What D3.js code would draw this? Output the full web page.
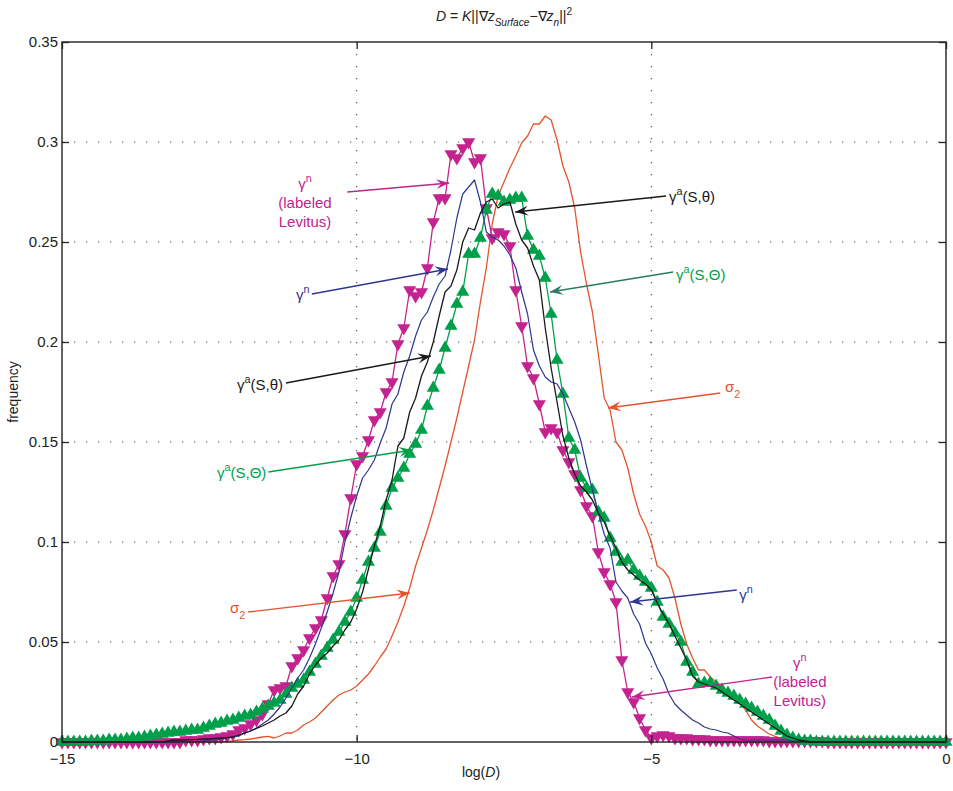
<!DOCTYPE html>
<html>
<head>
<meta charset="utf-8">
<script src="https://d3js.org/d3.v7.min.js"></script>
<style>
  body { margin: 0; background: #fff; }
  svg { display: block; }
  text { font-family: "Liberation Sans", Arial, Helvetica, sans-serif; fill: #222; }
</style>
</head>
<body>
<script>
// bin centres of log(D), 0.1 wide, -15 .. 0
var logD = d3.range(151).map(function(i) { return -15 + i * 0.1; });

var xTicks = [-15, -10, -5, 0];
var xTickLabels = ["\u221215", "\u221210", "\u22125", "0"];
var yTicks = [0, 0.05, 0.1, 0.15, 0.2, 0.25, 0.3, 0.35];
var yTickLabels = ["0", "0.05", "0.1", "0.15", "0.2", "0.25", "0.3", "0.35"];

// gamma^n (labeled Levitus)
var gnLevitus = [
  0,0,0,0,0,0,0,0,0,0,
  0,0,0,0,0,0,0,0,0,0,
  0,0.001,0.001,0.001,0.0015,0.002,0.002,0.0025,0.003,0.004,
  0.006,0.007,0.009,0.011,0.014,0.019,0.026,0.027,0.028,0.038,
  0.042,0.046,0.052,0.057,0.061,0.072,0.083,0.089,0.104,0.122,
  0.139,0.143,0.151,0.161,0.165,0.175,0.180,0.199,0.207,0.226,
  0.223,0.225,0.237,0.260,0.272,0.272,0.294,0.292,0.297,0.300,
  0.290,0.292,0.267,0.252,0.255,0.254,0.248,0.226,0.208,0.188,
  0.182,0.169,0.155,0.157,0.155,0.146,0.140,0.134,0.126,0.118,
  0.113,0.095,0.085,0.079,0.070,0.041,0.025,0.020,0.012,0.006,
  0.002,0.003,0.0035,0.003,0.002,0.002,0.002,0.0015,0.0015,0.0015,
  0.001,0.001,0.001,0.001,0.001,0.001,0.001,0.001,0.001,0.001,
  0.0005,0.0005,0.0005,0.0005,0.0005,0.0005,0.0005,0.0005,0.0005,0.0005,
  0,0,0,0,0,0,0,0,0,0,
  0,0,0,0,0,0,0,0,0,0,
  0
];

// gamma^a(S, Theta)
var gaTheta = [
  0,0,0,0,0,0.0005,0.0005,0.0005,0.001,0.001,
  0.001,0.0015,0.002,0.002,0.0025,0.003,0.0035,0.004,0.0045,0.005,
  0.005,0.0055,0.006,0.006,0.007,0.008,0.009,0.0095,0.0105,0.011,
  0.012,0.013,0.0135,0.015,0.0165,0.018,0.0195,0.021,0.024,0.027,
  0.029,0.031,0.035,0.039,0.043,0.047,0.051,0.055,0.060,0.065,
  0.072,0.081,0.090,0.097,0.105,0.118,0.127,0.132,0.137,0.144,
  0.149,0.156,0.168,0.177,0.186,0.197,0.208,0.219,0.225,0.244,
  0.244,0.252,0.266,0.274,0.273,0.270,0.271,0.272,0.272,0.253,
  0.246,0.243,0.232,0.214,0.191,0.174,0.152,0.146,0.132,0.127,
  0.126,0.115,0.112,0.102,0.095,0.090,0.091,0.086,0.083,0.080,
  0.077,0.070,0.0625,0.059,0.0545,0.050,0.040,0.035,0.029,0.0295,
  0.0295,0.028,0.026,0.0245,0.023,0.021,0.019,0.017,0.015,0.013,
  0.011,0.008,0.0055,0.0035,0.002,0.001,0.0005,0.0005,0,0,
  0,0,0,0,0,0,0,0,0,0,
  0,0,0,0,0,0,0,0,0,0,
  0
];

// gamma^a(S, theta)
var gaPot = [
  0,0,0,0,0,0,0,0,0,0,
  0,0,0,0,0,0,0,0,0.0005,0.001,
  0.001,0.001,0.0012,0.0013,0.0015,0.0015,0.0018,0.002,0.0022,0.0025,
  0.0035,0.0045,0.0055,0.0068,0.008,0.0095,0.011,0.013,0.0145,0.018,
  0.024,0.028,0.034,0.0385,0.042,0.0445,0.048,0.051,0.056,0.060,
  0.0665,0.075,0.0865,0.098,0.108,0.121,0.131,0.148,0.152,0.165,
  0.172,0.183,0.190,0.200,0.213,0.225,0.228,0.236,0.250,0.257,
  0.256,0.2645,0.270,0.2715,0.267,0.269,0.270,0.259,0.251,0.247,
  0.238,0.231,0.207,0.187,0.170,0.153,0.142,0.134,0.128,0.125,
  0.121,0.1145,0.110,0.103,0.097,0.090,0.086,0.0835,0.081,0.079,
  0.076,0.0695,0.064,0.059,0.053,0.047,0.041,0.033,0.030,0.029,
  0.028,0.027,0.025,0.023,0.021,0.019,0.017,0.015,0.013,0.011,
  0.009,0.007,0.005,0.003,0.002,0.001,0.0005,0,0,0,
  0,0,0,0,0,0,0,0,0,0,
  0,0,0,0,0,0,0,0,0,0,
  0
];

// gamma^n
var gn = [
  0,0,0,0,0,0,0,0,0,0,
  0,0,0,0,0,0,0,0,0,0,
  0,0,0,0.0003,0.0005,0.001,0.001,0.0015,0.002,0.0025,
  0.003,0.0045,0.0055,0.007,0.009,0.011,0.014,0.0175,0.022,0.027,
  0.032,0.036,0.042,0.049,0.057,0.065,0.0745,0.085,0.100,0.112,
  0.123,0.132,0.136,0.141,0.1495,0.157,0.169,0.174,0.185,0.193,
  0.203,0.211,0.215,0.2225,0.229,0.233,0.246,0.262,0.274,0.2775,
  0.281,0.270,0.255,0.2525,0.251,0.248,0.2435,0.237,0.225,0.214,
  0.196,0.188,0.1825,0.180,0.179,0.174,0.167,0.160,0.151,0.138,
  0.126,0.1145,0.104,0.097,0.080,0.0755,0.072,0.064,0.059,0.0495,
  0.044,0.037,0.0315,0.024,0.019,0.016,0.0135,0.011,0.0095,0.0075,
  0.0065,0.006,0.005,0.0045,0.003,0.0015,0.001,0.001,0.001,0.001,
  0.001,0.001,0.001,0.001,0.0005,0.0005,0.0005,0,0,0,
  0,0,0,0,0,0,0,0,0,0,
  0,0,0,0,0,0,0,0,0,0,
  0
];

// sigma_2
var sigma2 = [
  0,0,0,0,0,0,0,0,0,0,
  0,0,0,0,0,0,0,0,0,0,
  0,0,0,0,0,0,0,0,0.0003,0.0005,
  0.001,0.0012,0.0015,0.002,0.0025,0.0028,0.002,0.003,0.0045,0.0045,
  0.006,0.0085,0.010,0.012,0.015,0.018,0.021,0.0235,0.025,0.026,
  0.028,0.031,0.034,0.038,0.0425,0.0465,0.053,0.060,0.068,0.077,
  0.088,0.097,0.106,0.116,0.127,0.138,0.150,0.162,0.175,0.188,
  0.201,0.220,0.237,0.259,0.273,0.280,0.287,0.293,0.2995,0.303,
  0.309,0.309,0.313,0.311,0.301,0.288,0.280,0.267,0.245,0.229,
  0.215,0.194,0.172,0.166,0.150,0.146,0.137,0.124,0.114,0.108,
  0.100,0.088,0.086,0.082,0.072,0.059,0.049,0.042,0.036,0.036,
  0.0325,0.030,0.027,0.024,0.022,0.0195,0.016,0.011,0.008,0.006,
  0.004,0.0028,0.0018,0.001,0.0005,0.0005,0.0005,0.0005,0.0005,0.0005,
  0.0005,0,0,0,0,0,0,0,0,0,
  0,0,0,0,0,0,0,0,0,0,
  0
];

var colMagenta = "#c4238f", colGreen = "#00a04b", colBlack = "#1a1a1a",
    colBlue = "#2e3592", colOrange = "#e2552b", colTeal = "#2a7b62";

var margin = {top: 42, right: 7, bottom: 49, left: 62},
    width = 953 - margin.left - margin.right,
    height = 791 - margin.top - margin.bottom;

var x = d3.scaleLinear().domain([-15, 0]).range([0, width]);
var y = d3.scaleLinear().domain([0, 0.35]).range([height, 0]);

var svg = d3.select("body").append("svg")
    .attr("width", 953)
    .attr("height", 791);

var g = svg.append("g")
    .attr("transform", "translate(" + margin.left + "," + margin.top + ")");

// dotted grid
g.selectAll(".hgrid")
    .data(yTicks.slice(1, -1))
  .enter().append("line")
    .attr("x1", 0).attr("x2", width)
    .attr("y1", y).attr("y2", y)
    .attr("stroke", "#444").attr("stroke-width", 1.1)
    .attr("stroke-dasharray", "1.2,10.8");
g.selectAll(".vgrid")
    .data(xTicks.slice(1, -1))
  .enter().append("line")
    .attr("y1", 0).attr("y2", height)
    .attr("x1", x).attr("x2", x)
    .attr("stroke", "#444").attr("stroke-width", 1.1)
    .attr("stroke-dasharray", "1.2,10.8");

// series
var line = d3.line()
    .x(function(d, i) { return x(logD[i]); })
    .y(function(d) { return y(d); });

function drawLine(values, color, w) {
  g.append("path")
    .datum(values)
    .attr("fill", "none")
    .attr("stroke", color)
    .attr("stroke-width", w)
    .attr("stroke-linejoin", "round")
    .attr("d", line);
}

function drawMarkers(values, color, down) {
  var tri = d3.symbol().type(d3.symbolTriangle).size(74);
  g.append("g").selectAll("path")
    .data(values)
  .enter().append("path")
    .attr("d", tri)
    .attr("fill", color)
    .attr("transform", function(d, i) {
      return "translate(" + x(logD[i]) + "," + y(d) + ")" + (down ? " rotate(180)" : "");
    });
}

drawLine(sigma2, colOrange, 1.3);
drawLine(gnLevitus, colMagenta, 1.3);
drawMarkers(gnLevitus, colMagenta, true);
drawLine(gaTheta, colGreen, 1.3);
drawMarkers(gaTheta, colGreen, false);
drawLine(gn, colBlue, 1.2);
drawLine(gaPot, colBlack, 1.3);

// axes, ticks inside on all four sides
g.append("g")
    .attr("transform", "translate(0," + height + ")")
    .call(d3.axisBottom(x).tickValues(xTicks)
      .tickFormat(function(d, i) { return xTickLabels[i]; })
      .tickSizeInner(-7).tickSizeOuter(0).tickPadding(11));
g.append("g")
    .call(d3.axisLeft(y).tickValues(yTicks)
      .tickFormat(function(d, i) { return yTickLabels[i]; })
      .tickSizeInner(-7).tickSizeOuter(0).tickPadding(4));
g.append("g")
    .call(d3.axisTop(x).tickValues(xTicks).tickFormat("").tickSizeInner(-7).tickSizeOuter(0));
g.append("g")
    .attr("transform", "translate(" + width + ",0)")
    .call(d3.axisRight(y).tickValues(yTicks).tickFormat("").tickSizeInner(-7).tickSizeOuter(0));

g.selectAll(".domain").remove();
g.selectAll(".tick line").attr("stroke", "#222").attr("stroke-width", 1.3);
g.selectAll(".tick text").attr("font-size", 15).attr("fill", "#222")
    .style("font-family", "'Liberation Sans', Arial, sans-serif");

g.append("rect")
    .attr("width", width).attr("height", height)
    .attr("fill", "none").attr("stroke", "#222").attr("stroke-width", 1.4);

// rich text helper: parts with optional sup / sub / italic
function rich(sel, parts, size) {
  var shift = 0;
  parts.forEach(function(p) {
    var t = sel.append("tspan").text(p.t);
    var target = p.sup ? -0.45 * size : p.sub ? 0.38 * size : 0;
    t.attr("dy", target - shift);
    shift = target;
    if (p.sup || p.sub) t.attr("font-size", size * 0.72);
    if (p.it) t.attr("font-style", "italic");
  });
}

var gammaA_theta = [{t: "\u03b3"}, {t: "a", sup: true}, {t: "(S,\u03b8)"}];
var gammaA_Theta = [{t: "\u03b3"}, {t: "a", sup: true}, {t: "(S,\u0398)"}];
var gammaN = [{t: "\u03b3"}, {t: "n", sup: true}];
var sigmaTwo = [{t: "\u03c3"}, {t: "2", sub: true}];

// annotations: text anchor point and arrow in data units
var notes = [
  {parts: gammaN, extra: ["(labeled", "Levitus)"], color: colMagenta, anchor: "middle",
   tx: -10.877, ty: 0.2765, from: [-10.16, 0.275], to: [-8.43, 0.2795]},
  {parts: gammaN, color: colBlue, anchor: "start",
   tx: -11.03, ty: 0.221, from: [-10.76, 0.224], to: [-8.45, 0.2365]},
  {parts: gammaA_theta, color: colBlack, anchor: "start",
   tx: -12.03, ty: 0.176, from: [-11.2, 0.1795], to: [-8.74, 0.193]},
  {parts: gammaA_Theta, color: colGreen, anchor: "start",
   tx: -12.37, ty: 0.132, from: [-11.5, 0.135], to: [-9.06, 0.146]},
  {parts: sigmaTwo, color: colOrange, anchor: "start",
   tx: -12.15, ty: 0.0645, from: [-11.84, 0.065], to: [-9.1, 0.0745]},
  {parts: gammaA_theta, color: colBlack, anchor: "start",
   tx: -4.7, ty: 0.27, from: [-4.75, 0.273], to: [-7.31, 0.265]},
  {parts: gammaA_Theta, color: colGreen, arrowColor: colTeal, anchor: "start",
   tx: -4.58, ty: 0.231, from: [-4.63, 0.235], to: [-6.72, 0.225]},
  {parts: sigmaTwo, color: colOrange, anchor: "start",
   tx: -3.75, ty: 0.175, from: [-3.83, 0.1745], to: [-5.735, 0.167]},
  {parts: gammaN, color: colBlue, anchor: "start",
   tx: -3.51, ty: 0.071, from: [-3.55, 0.076], to: [-5.36, 0.07]},
  {parts: gammaN, extra: ["(labeled", "Levitus)"], color: colMagenta, anchor: "middle",
   tx: -2.48, ty: 0.037, from: [-2.95, 0.0325], to: [-5.33, 0.0225]}
];

function arrowHead(px, py, angle, color) {
  var L = 13, W = 5, N = 8;
  g.append("path")
    .attr("d", "M0,0L" + (-L) + "," + (-W) + "L" + (-N) + ",0L" + (-L) + "," + W + "Z")
    .attr("fill", color)
    .attr("transform", "translate(" + px + "," + py + ") rotate(" + (angle * 180 / Math.PI) + ")");
}

notes.forEach(function(n) {
  var ac = n.arrowColor || n.color;
  var x1 = x(n.from[0]), y1 = y(n.from[1]), x2 = x(n.to[0]), y2 = y(n.to[1]);
  g.append("line")
    .attr("x1", x1).attr("y1", y1).attr("x2", x2).attr("y2", y2)
    .attr("stroke", ac).attr("stroke-width", 1.3);
  arrowHead(x2, y2, Math.atan2(y2 - y1, x2 - x1), ac);

  var t = g.append("text")
    .attr("x", x(n.tx)).attr("y", y(n.ty))
    .attr("text-anchor", n.anchor)
    .attr("font-size", 15)
    .style("fill", n.color);
  rich(t, n.parts, 15);
  (n.extra || []).forEach(function(s, k) {
    g.append("text")
      .attr("x", x(n.tx)).attr("y", y(n.ty) + 19 * (k + 1))
      .attr("text-anchor", n.anchor)
      .attr("font-size", 15)
      .style("fill", n.color)
      .text(s);
  });
});

// title
var title = svg.append("text")
    .attr("x", margin.left + width / 2)
    .attr("y", 21)
    .attr("text-anchor", "middle")
    .attr("font-size", 14);
rich(title, [
  {t: "D", it: true}, {t: " = "}, {t: "K", it: true}, {t: "||\u2207"}, {t: "z", it: true},
  {t: "Surface", sub: true, it: true}, {t: "\u2212\u2207"}, {t: "z", it: true},
  {t: "n", sub: true, it: true}, {t: "||"}, {t: "2", sup: true}
], 14);

// axis labels
var xl = svg.append("text")
    .attr("x", 481).attr("y", 777)
    .attr("text-anchor", "middle")
    .attr("font-size", 14);
rich(xl, [{t: "log("}, {t: "D", it: true}, {t: ")"}], 14);

svg.append("text")
    .attr("transform", "translate(18," + (margin.top + height / 2) + ") rotate(-90)")
    .attr("text-anchor", "middle")
    .attr("font-size", 14)
    .text("frequency");
</script>
</body>
</html>
